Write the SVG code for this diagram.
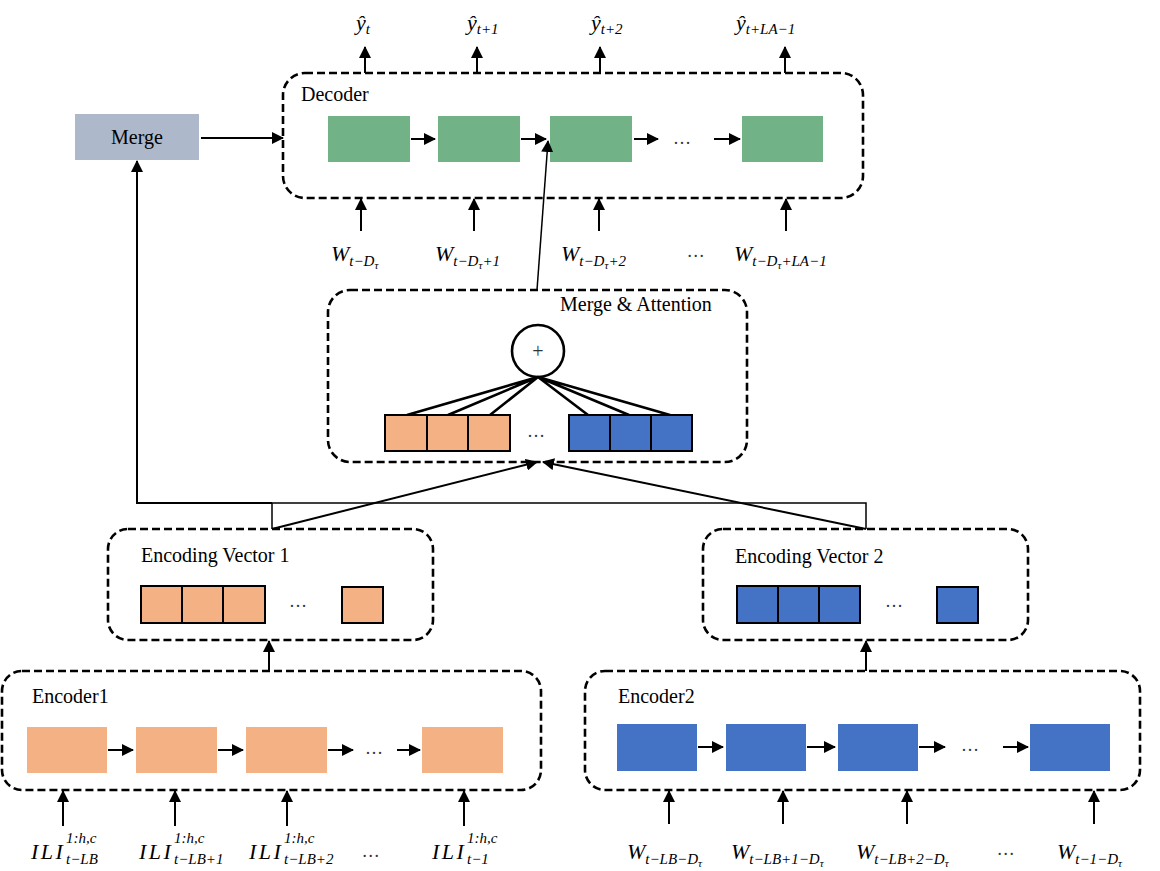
<svg xmlns="http://www.w3.org/2000/svg" width="1160" height="871" viewBox="0 0 1160 871">
  <style>
    .frame { fill: none; stroke: #000; stroke-width: 2.6; stroke-dasharray: 8 4; }
    .lbl { font-family: "Liberation Serif", "Times New Roman", serif; font-size: 20px; fill: #000; }
    .math { font-family: "Liberation Serif", "Times New Roman", serif; font-style: italic; fill: #000; }
    .m { font-size: 22px; }
    .s { font-size: 15px; }
    .ss { font-size: 11px; }
    .wide { letter-spacing: 2.5px; }
    .dots { font-family: "Liberation Serif", serif; font-size: 18px; fill: #333; }
    .green { fill: #71B287; }
    .orange { fill: #F4B183; }
    .blue { fill: #4472C4; }
    .boxed { stroke: #000; stroke-width: 2; }
    .arrow { stroke: #000; stroke-width: 2; fill: none; marker-end: url(#head); }
    .thin { stroke: #000; stroke-width: 1.5; fill: none; }
    .fan { stroke: #000; stroke-width: 2.6; fill: none; }
  </style>
  <defs>
    <marker id="head" markerUnits="userSpaceOnUse" markerWidth="12" markerHeight="12" refX="11" refY="6" orient="auto">
      <path d="M0,0 L12,6 L0,12 z" fill="#000"/>
    </marker>
  </defs>
  <rect width="1160" height="871" fill="#fff"/>

  <!-- Decoder -->
  <g id="decoder">
    <rect class="frame" x="283" y="73" width="580" height="125" rx="22"/>
    <text class="lbl" x="301" y="101">Decoder</text>
    <rect class="green" x="328" y="116" width="82" height="46"/>
    <rect class="green" x="438" y="116" width="82" height="46"/>
    <rect class="green" x="550" y="116" width="82" height="46"/>
    <rect class="green" x="742" y="116" width="81" height="46"/>
    <text class="dots" x="673" y="144">…</text>
  </g>

  <!-- Merge -->
  <g id="merge">
    <rect x="75" y="114" width="124" height="46" fill="#ADB9CA"/>
    <text class="lbl" x="137" y="144" text-anchor="middle">Merge</text>
  </g>

  <!-- Merge & Attention -->
  <g id="merge-attention">
    <rect class="frame" x="328" y="290" width="419" height="172" rx="22"/>
    <text class="lbl" x="560" y="311">Merge &amp; Attention</text>
    <circle cx="538" cy="351" r="26" fill="#fff" stroke="#000" stroke-width="2.6"/>
    <text x="538" y="358" text-anchor="middle" font-family="Liberation Serif, serif" font-size="20" fill="#333">+</text>
    <path class="fan" d="M538,377 L407,415 M538,377 L448,415 M538,377 L490,415 M538,377 L588,415 M538,377 L629,415 M538,377 L670,415"/>
    <rect class="orange boxed" x="385" y="415" width="42" height="36"/>
    <rect class="orange boxed" x="427" y="415" width="41" height="36"/>
    <rect class="orange boxed" x="468" y="415" width="42" height="36"/>
    <text class="dots" x="527" y="437">…</text>
    <rect class="blue boxed" x="569" y="415" width="41" height="36"/>
    <rect class="blue boxed" x="610" y="415" width="41" height="36"/>
    <rect class="blue boxed" x="651" y="415" width="41" height="36"/>
  </g>

  <!-- Encoding Vector 1 -->
  <g id="encoding-vector-1">
    <rect class="frame" x="108" y="529" width="325" height="111" rx="20"/>
    <text class="lbl" x="141" y="562">Encoding Vector 1</text>
    <rect class="orange boxed" x="141" y="586" width="41" height="37"/>
    <rect class="orange boxed" x="182" y="586" width="41" height="37"/>
    <rect class="orange boxed" x="223" y="586" width="42" height="37"/>
    <text class="dots" x="289" y="607">…</text>
    <rect class="orange boxed" x="342" y="587" width="41" height="36"/>
  </g>

  <!-- Encoding Vector 2 -->
  <g id="encoding-vector-2">
    <rect class="frame" x="703" y="529" width="325" height="111" rx="20"/>
    <text class="lbl" x="735" y="563">Encoding Vector 2</text>
    <rect class="blue boxed" x="737" y="586" width="41" height="37"/>
    <rect class="blue boxed" x="778" y="586" width="41" height="37"/>
    <rect class="blue boxed" x="819" y="586" width="41" height="37"/>
    <text class="dots" x="885" y="607">…</text>
    <rect class="blue boxed" x="937" y="587" width="41" height="36"/>
  </g>

  <!-- Encoder1 -->
  <g id="encoder-1">
    <rect class="frame" x="2" y="671" width="539" height="119" rx="20"/>
    <text class="lbl" x="32" y="703">Encoder1</text>
    <rect class="orange" x="27" y="727" width="80" height="46"/>
    <rect class="orange" x="136" y="727" width="81" height="46"/>
    <rect class="orange" x="246" y="727" width="81" height="46"/>
    <rect class="orange" x="422" y="727" width="81" height="46"/>
    <text class="dots" x="365" y="754">…</text>
  </g>

  <!-- Encoder2 -->
  <g id="encoder-2">
    <rect class="frame" x="585" y="671" width="555" height="119" rx="20"/>
    <text class="lbl" x="618" y="703">Encoder2</text>
    <rect class="blue" x="617" y="724" width="80" height="47"/>
    <rect class="blue" x="726" y="724" width="80" height="47"/>
    <rect class="blue" x="838" y="724" width="80" height="47"/>
    <rect class="blue" x="1030" y="724" width="80" height="47"/>
    <text class="dots" x="961" y="751">…</text>
  </g>

  <!-- Connectors -->
  <g id="connectors">
    <!-- decoder chain -->
    <path class="arrow" d="M411,139 L435,139"/>
    <path class="arrow" d="M521,139 L546,139"/>
    <path class="arrow" d="M634,139 L658,139"/>
    <path class="arrow" d="M714,139 L740,139"/>
    <!-- decoder outputs -->
    <path class="arrow" d="M365,73 L365,47"/>
    <path class="arrow" d="M477,73 L477,47"/>
    <path class="arrow" d="M600,73 L600,47"/>
    <path class="arrow" d="M785,73 L785,47"/>
    <!-- decoder inputs -->
    <path class="arrow" d="M361,231 L361,199"/>
    <path class="arrow" d="M474,231 L474,199"/>
    <path class="arrow" d="M599,231 L599,199"/>
    <path class="arrow" d="M786,231 L786,199"/>
    <!-- merge to decoder -->
    <path class="arrow" d="M201,138 L283,138"/>
    <!-- attention to decoder step -->
    <path class="arrow" style="stroke-width:1.5" d="M537,290 L548,141"/>
    <!-- encodings bus to merge -->
    <path class="arrow" d="M272,503 L137,503 L137,161"/>
    <path class="thin" d="M272,529 L272,503 L866,503 L866,529"/>
    <!-- encodings to attention -->
    <path class="arrow" d="M272,529 L537,462"/>
    <path class="arrow" d="M866,529 L543,462"/>
    <!-- encoders to encoding vectors -->
    <path class="arrow" d="M269,671 L269,641"/>
    <path class="arrow" d="M866,671 L866,641"/>
    <!-- encoder1 chain -->
    <path class="arrow" d="M108,750 L133,750"/>
    <path class="arrow" d="M218,750 L243,750"/>
    <path class="arrow" d="M328,750 L353,750"/>
    <path class="arrow" d="M397,750 L420,750"/>
    <!-- encoder2 chain -->
    <path class="arrow" d="M698,747 L723,747"/>
    <path class="arrow" d="M807,747 L835,747"/>
    <path class="arrow" d="M919,747 L945,747"/>
    <path class="arrow" d="M1003,747 L1028,747"/>
    <!-- encoder1 inputs -->
    <path class="arrow" d="M63,826 L63,791"/>
    <path class="arrow" d="M175,826 L175,791"/>
    <path class="arrow" d="M287,826 L287,791"/>
    <path class="arrow" d="M464,826 L464,791"/>
    <!-- encoder2 inputs -->
    <path class="arrow" d="M669,824 L669,791"/>
    <path class="arrow" d="M783,824 L783,791"/>
    <path class="arrow" d="M907,824 L907,791"/>
    <path class="arrow" d="M1094,824 L1094,791"/>
  </g>

  <!-- Output labels -->
  <g id="outputs" class="math">
    <text class="m" x="356" y="30">ŷ<tspan class="s" dy="4">t</tspan></text>
    <text class="m" x="467" y="30">ŷ<tspan class="s" dy="4">t+1</tspan></text>
    <text class="m" x="591" y="30">ŷ<tspan class="s" dy="4">t+2</tspan></text>
    <text class="m" x="736" y="30">ŷ<tspan class="s" dy="4">t+LA−1</tspan></text>
  </g>

  <!-- Decoder input labels -->
  <g id="decoder-inputs" class="math">
    <text class="m" x="331" y="261">W<tspan class="s" dy="5">t−D</tspan><tspan class="ss" dy="3">τ</tspan></text>
    <text class="m" x="435" y="261">W<tspan class="s" dy="5">t−D</tspan><tspan class="ss" dy="3">τ</tspan><tspan class="s" dy="-3">+1</tspan></text>
    <text class="m" x="561" y="261">W<tspan class="s" dy="5">t−D</tspan><tspan class="ss" dy="3">τ</tspan><tspan class="s" dy="-3">+2</tspan></text>
    <text class="dots" x="688" y="257">…</text>
    <text class="m" x="734" y="261">W<tspan class="s" dy="5">t−D</tspan><tspan class="ss" dy="3">τ</tspan><tspan class="s" dy="-3">+LA−1</tspan></text>
  </g>

  <!-- Encoder1 input labels -->
  <g id="encoder1-inputs" class="math">
    <text class="m" x="31" y="859"><tspan class="wide">ILI</tspan><tspan class="s" x="66" y="843">1:h,c</tspan><tspan class="s" x="66" y="864">t−LB</tspan></text>
    <text class="m" x="139" y="859"><tspan class="wide">ILI</tspan><tspan class="s" x="174" y="843">1:h,c</tspan><tspan class="s" x="174" y="864">t−LB+1</tspan></text>
    <text class="m" x="249" y="859"><tspan class="wide">ILI</tspan><tspan class="s" x="284" y="843">1:h,c</tspan><tspan class="s" x="284" y="864">t−LB+2</tspan></text>
    <text class="dots" x="363" y="857">…</text>
    <text class="m" x="432" y="859"><tspan class="wide">ILI</tspan><tspan class="s" x="467" y="843">1:h,c</tspan><tspan class="s" x="467" y="864">t−1</tspan></text>
  </g>

  <!-- Encoder2 input labels -->
  <g id="encoder2-inputs" class="math">
    <text class="m" x="627" y="859">W<tspan class="s" dy="5">t−LB−D</tspan><tspan class="ss" dy="3">τ</tspan></text>
    <text class="m" x="731" y="859">W<tspan class="s" dy="5">t−LB+1−D</tspan><tspan class="ss" dy="3">τ</tspan></text>
    <text class="m" x="856" y="859">W<tspan class="s" dy="5">t−LB+2−D</tspan><tspan class="ss" dy="3">τ</tspan></text>
    <text class="dots" x="998" y="855">…</text>
    <text class="m" x="1057" y="859">W<tspan class="s" dy="5">t−1−D</tspan><tspan class="ss" dy="3">τ</tspan></text>
  </g>
</svg>
